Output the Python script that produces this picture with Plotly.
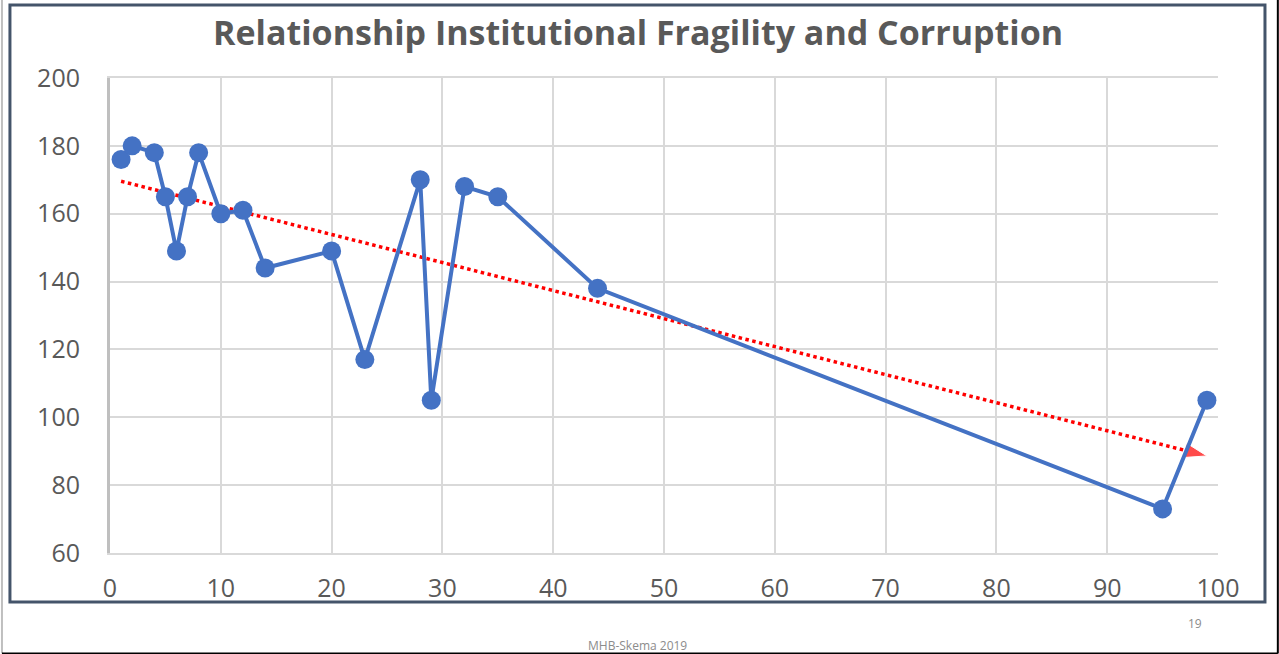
import numpy as np
import plotly.graph_objects as go

# fragility index (x) vs corruption score (y)
fragility = [1, 2, 4, 5, 6, 7, 8, 10, 12, 14, 20, 23, 28, 29, 32, 35, 44, 95, 99]
corruption = [176, 180, 178, 165, 149, 165, 178, 160, 161, 144, 149, 117, 170, 105, 168, 165, 138, 73, 105]

x_ticks = [0, 10, 20, 30, 40, 50, 60, 70, 80, 90, 100]
y_ticks = [60, 80, 100, 120, 140, 160, 180, 200]

title_text = "Relationship Institutional Fragility and Corruption"
slide_no = "19"
footer = "MHB-Skema 2019"

# linear trend (least squares)
slope, intercept = np.polyfit(fragility, corruption, 1)
trend_x = [min(fragility), max(fragility)]
trend_y = [slope * v + intercept for v in trend_x]

fig = go.Figure()

fig.add_trace(go.Scatter(
    x=trend_x, y=trend_y,
    mode='lines+markers',
    line=dict(color='#FF0000', width=3.5, dash='dot'),
    marker=dict(symbol=['circle', 'arrow'], size=[0, 24], color='#FF0000',
                angleref='previous'),
    showlegend=False, hoverinfo='skip'
))

fig.add_trace(go.Scatter(
    x=fragility, y=corruption,
    mode='lines+markers',
    line=dict(color='#4472C4', width=4),
    marker=dict(color='#4472C4', size=19, symbol='circle'),
    showlegend=False
))

grid = '#D9D9D9'
tick_font = dict(family='Open Sans, sans-serif', size=25, color='#595959')

fig.update_layout(
    width=1279, height=654,
    margin=dict(l=110, r=61, t=78, b=101),
    paper_bgcolor='white',
    plot_bgcolor='white',
    xaxis=dict(range=[0, 100], tickvals=x_ticks, showgrid=True, gridcolor=grid,
               gridwidth=2, zeroline=False, showline=True, linecolor=grid,
               linewidth=2, mirror=True, tickfont=tick_font, ticks='',
               ticklabelstandoff=12),
    yaxis=dict(range=[60, 200], tickvals=y_ticks, showgrid=True, gridcolor=grid,
               gridwidth=2, zeroline=False, showline=True, linecolor='#BFBFBF',
               linewidth=3, tickfont=tick_font, ticks='',
               ticklabelstandoff=22),
    shapes=[
        # chart frame
        dict(type='rect', xref='paper', yref='paper',
             x0=-0.0903, x1=1.0424, y0=-0.1032, y1=1.1537,
             line=dict(color='#44546A', width=3)),
        # slide edges
        dict(type='line', xref='paper', yref='paper',
             x0=-0.0975, x1=-0.0975, y0=-0.211, y1=1.164,
             line=dict(color='#BFBFBF', width=2)),
        dict(type='line', xref='paper', yref='paper',
             x0=-0.0975, x1=1.054, y0=-0.2116, y1=-0.2116,
             line=dict(color='#000000', width=2)),
        dict(type='line', xref='paper', yref='paper',
             x0=1.054, x1=1.054, y0=-0.2116, y1=1.164,
             line=dict(color='#000000', width=2)),
    ],
    annotations=[
        dict(text='<b>' + title_text + '</b>', xref='paper', yref='paper',
             x=0.4764, y=1.0968, xanchor='center', yanchor='middle', showarrow=False,
             font=dict(family='Open Sans, sans-serif', size=34, color='#595959')),
        dict(text=slide_no, xref='paper', yref='paper',
             x=0.9793, y=-0.1474, xanchor='center', yanchor='middle', showarrow=False,
             font=dict(family='Open Sans, sans-serif', size=12, color='#8C8C8C')),
        dict(text=footer, xref='paper', yref='paper',
             x=0.4765, y=-0.1937, xanchor='center', yanchor='middle', showarrow=False,
             font=dict(family='Open Sans, sans-serif', size=12, color='#8C8C8C')),
    ],
)

# drop the default page margin so the figure sits flush in the window
fig.write_html("out.html", config={'displayModeBar': False},
               post_script="document.body.style.margin='0';")
